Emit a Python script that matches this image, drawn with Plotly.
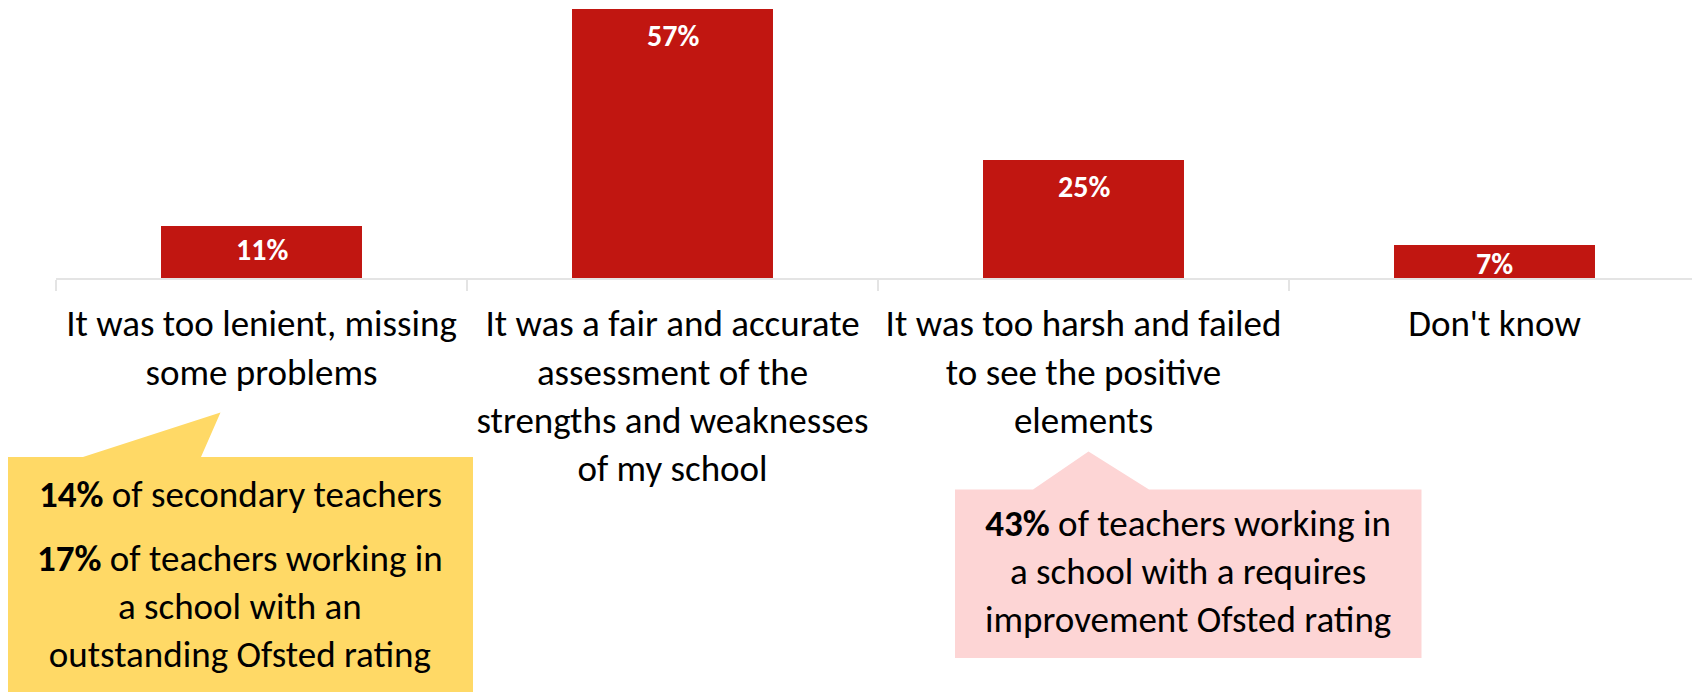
import plotly.graph_objects as go

# ---- data ----
categories = [
    "It was too lenient, missing<br>some problems",
    "It was a fair and accurate<br>assessment of the<br>strengths and weaknesses<br>of my school",
    "It was too harsh and failed<br>to see the positive<br>elements",
    "Don't know",
]
values = [11, 57, 25, 7]
value_labels = ["11%", "57%", "25%", "7%"]

callout_yellow_1 = "<b>14%</b> of secondary teachers"
callout_yellow_2 = "<b>17%</b> of teachers working in<br>a school with an<br>outstanding Ofsted rating"
callout_pink = "<b>43%</b> of teachers working in<br>a school with a requires<br>improvement Ofsted rating"

# ---- layout constants ----
OFF = 8                      # default page body margin in the browser
FW, FH = 1700 - OFF, 692 - OFF
ML, MR, MT = 48, 0, 0
PLOT_BOTTOM_PAGE = 278
MB = FH - (PLOT_BOTTOM_PAGE - OFF)
PW, PH = FW - ML - MR, FH - MT - MB
YMAX = 57.2
FONT = "Calibri, Carlito, Lato, sans-serif"
BAR_COLOR = "#C11611"
AXIS_COLOR = "#E4E4E4"
TXT = 37


def px(x, y):
    """convert page pixel to paper coords"""
    return (x - OFF - ML) / PW, (FH - MB - (y - OFF)) / PH


def poly(points):
    pts = [px(x, y) for x, y in points]
    return "M " + " L ".join(f"{a:.5f},{b:.5f}" for a, b in pts) + " Z"


fig = go.Figure()
fig.add_trace(go.Bar(
    x=categories, y=values,
    marker=dict(color=BAR_COLOR, line=dict(width=0)),
    hoverinfo="skip",
))

ppu = PH / YMAX
annotations = []
for c, v, t in zip(categories, values, value_labels):
    h = v * ppu
    off = max(min(27, h / 2 - 3), 19)
    annotations.append(dict(
        x=c, y=v, xref="x", yref="y", text=t, showarrow=False,
        yanchor="middle", xanchor="center", yshift=-off,
        font=dict(family=FONT, size=30, color="white", weight="bold"),
    ))

# callout shapes
shapes = [
    dict(type="path", xref="paper", yref="paper", layer="below",
         path=poly([(7, 457), (83, 457), (220.5, 412.5), (201, 457), (473, 457), (473, 700), (7, 700)]),
         fillcolor="#FFD966", line=dict(width=0)),
    dict(type="path", xref="paper", yref="paper", layer="below",
         path=poly([(955, 489.5), (1033, 489.5), (1088.5, 451.5), (1149, 489.5), (1421.5, 489.5),
                    (1421.5, 658), (955, 658)]),
         fillcolor="#FDD5D5", line=dict(width=0)),
]

for text, cx, cy in [(callout_yellow_1, 240, 494), (callout_yellow_2, 240, 606), (callout_pink, 1188, 572)]:
    xp, yp = px(cx, cy)
    annotations.append(dict(
        x=xp, y=yp, xref="paper", yref="paper", text=text, showarrow=False,
        xanchor="center", yanchor="middle", align="center",
        font=dict(family=FONT, size=TXT, color="black"),
    ))

fig.update_layout(
    width=FW, height=FH,
    margin=dict(l=ML, r=MR, t=MT, b=MB, pad=0),
    paper_bgcolor="white", plot_bgcolor="white",
    bargap=0.511,
    showlegend=False,
    shapes=shapes,
    annotations=annotations,
    xaxis=dict(
        type="category", range=[-0.5, 3.5],
        showline=True, linecolor=AXIS_COLOR, linewidth=2,
        ticks="outside", tickson="boundaries", ticklen=11, tickcolor=AXIS_COLOR, tickwidth=2,
        showgrid=False, zeroline=False,
        tickfont=dict(family=FONT, size=TXT, color="black"),
        ticklabelstandoff=12,
        fixedrange=True,
    ),
    yaxis=dict(range=[0, YMAX], visible=False, showgrid=False, fixedrange=True),
)

fig.write_html("out.html")
